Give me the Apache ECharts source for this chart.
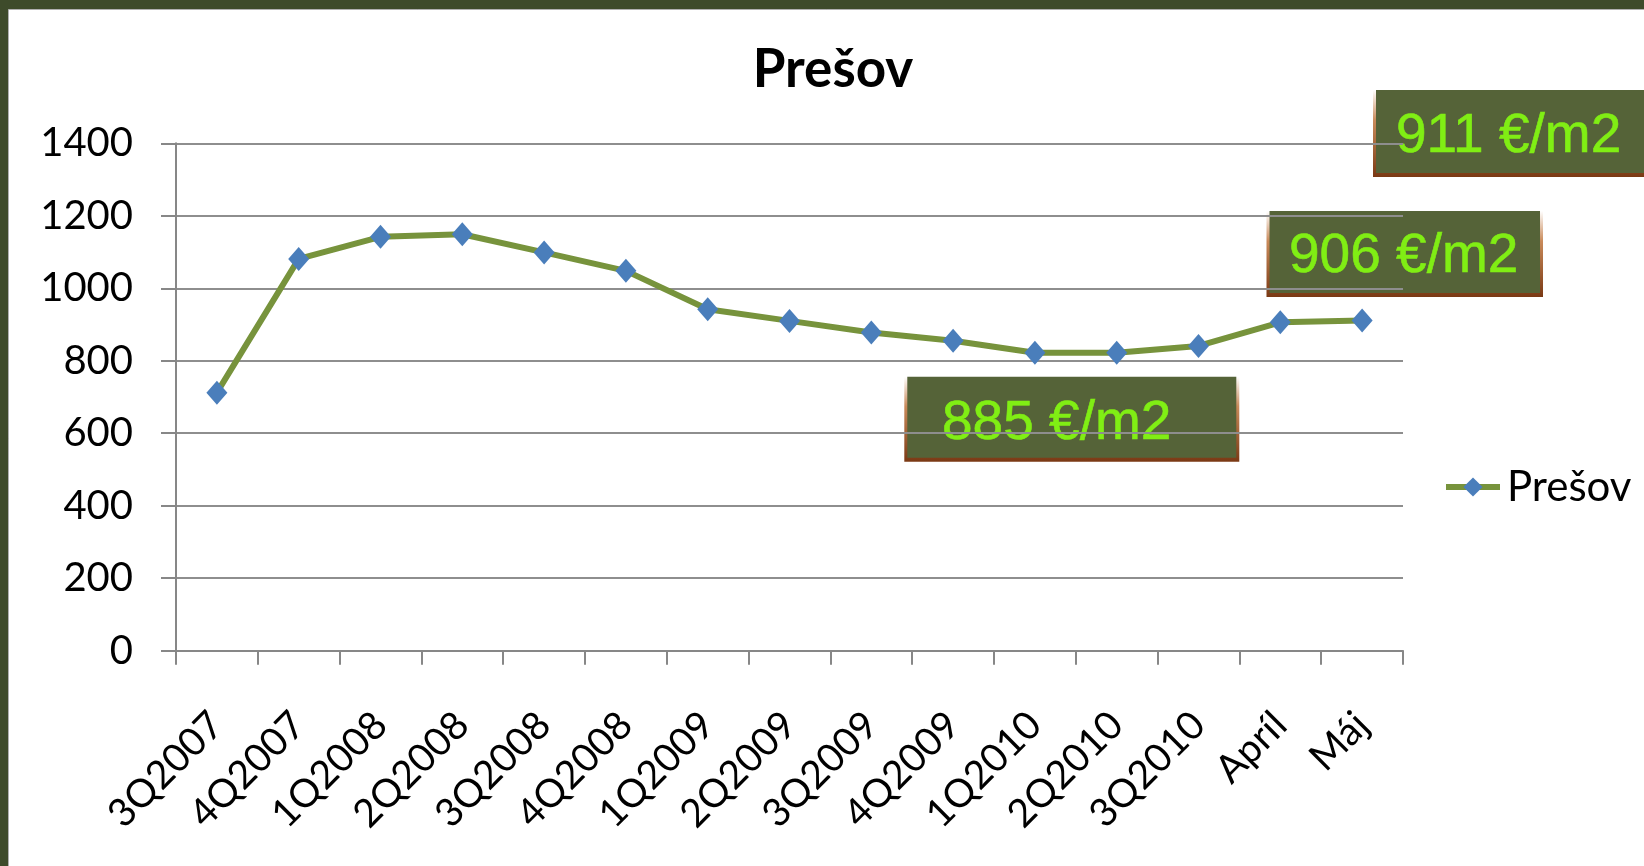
<!DOCTYPE html>
<html>
<head>
<meta charset="utf-8">
<script src="https://cdn.jsdelivr.net/npm/echarts@6/dist/echarts.min.js"></script>
<style>
  html, body { margin: 0; padding: 0; background: #3e4b2b; }
  #chart { width: 1644px; height: 866px; }
</style>
</head>
<body>
<div id="chart"></div>
<script>
const chartTitle = 'Prešov';
const categories = ['3Q2007', '4Q2007', '1Q2008', '2Q2008', '3Q2008', '4Q2008', '1Q2009', '2Q2009', '3Q2009', '4Q2009', '1Q2010', '2Q2010', '3Q2010', 'Apríl', 'Máj'];
const seriesName = 'Prešov';
const values = [712, 1081, 1142, 1149, 1099, 1048, 942, 910, 878, 855, 822, 822, 841, 906, 911];
const yTicks = [0, 200, 400, 600, 800, 1000, 1200, 1400];
const annotationTexts = ['911 €/m2', '906 €/m2', '885 €/m2'];

const boxFill = '#556338';
const boxText = '#80ee14';
const shade = {
  type: 'linear', x: 0, y: 0, x2: 0, y2: 1,
  colorStops: [{ offset: 0, color: '#ffffff' }, { offset: 0.35, color: '#c98a5a' }, { offset: 1, color: '#7a3914' }]
};

function box(x, y, w, h, text, tx, ty) {
  return {
    type: 'group',
    children: [
      { type: 'rect', shape: { x: x, y: y, width: w, height: h }, style: { fill: shade } },
      { type: 'rect', shape: { x: x + 3, y: y, width: w - 6, height: h - 4 }, style: { fill: boxFill } },
      { type: 'text', x: tx, y: ty, style: { text: text, fill: boxText, font: '55px "Liberation Sans", Arial, sans-serif', textAlign: 'left', textVerticalAlign: 'middle', stroke: boxText, lineWidth: 0.6 } }
    ]
  };
}

const chart = echarts.init(document.getElementById('chart'), null, { renderer: 'canvas' });
chart.setOption({
  backgroundColor: 'transparent',
  animation: false,
  title: {
    text: chartTitle,
    left: 828,
    top: 38,
    textAlign: 'center',
    textStyle: { fontFamily: 'Lato', fontWeight: 'bold', fontSize: 53, color: '#000' }
  },
  legend: {
    orient: 'vertical',
    left: 1443,
    top: 466,
    padding: 0,
    itemWidth: 54,
    itemHeight: 24,
    itemGap: 10,
    lineStyle: { width: 6 },
    textStyle: { fontFamily: 'Lato', fontSize: 42, color: '#000', padding: [0, 0, 0, 2] },
    data: [seriesName]
  },
  grid: {
    left: 176, right: 241, top: 143.3, bottom: 215.3,
    containLabel: false,
    outerBoundsMode: 'none'
  },
  xAxis: {
    type: 'category',
    data: categories,
    boundaryGap: true,
    axisLine: { show: true, lineStyle: { color: '#878787', width: 2 } },
    axisTick: { show: true, interval: 0, length: 14, alignWithLabel: false, lineStyle: { color: '#878787', width: 2 } },
    axisLabel: { interval: 0, rotate: 45, margin: 68, fontFamily: 'Lato', fontSize: 39, color: '#000' },
    splitLine: { show: false }
  },
  yAxis: {
    type: 'value',
    min: yTicks[0],
    max: yTicks[yTicks.length - 1],
    interval: yTicks[1] - yTicks[0],
    axisLine: { show: true, lineStyle: { color: '#878787', width: 2 } },
    axisTick: { show: true, length: 15, lineStyle: { color: '#878787', width: 2 } },
    axisLabel: { margin: 43, fontFamily: 'Lato', fontSize: 40, color: '#000', formatter: function (v) { return String(v); } },
    splitLine: { show: true, lineStyle: { color: '#8e8e8e', width: 2 } }
  },
  series: [{
    name: seriesName,
    type: 'line',
    data: values,
    symbol: 'diamond',
    symbolSize: [21, 24],
    lineStyle: { color: '#77933c', width: 6 },
    itemStyle: { color: '#4a7ebb' },
    z: 3
  }],
  graphic: [
    { type: 'rect', z: -10, silent: true, shape: { x: 0, y: 0, width: 1644, height: 866 }, style: { fill: '#3e4b2b' } },
    { type: 'rect', z: -9, silent: true, shape: { x: 8.5, y: 9.5, width: 1640, height: 860 }, style: { fill: '#ffffff', stroke: '#b0b0b0', lineWidth: 1 } },
    box(1373, 90, 275, 87, annotationTexts[0], 1396, 137),
    box(1266.5, 211, 276.5, 86, annotationTexts[1], 1289, 257),
    box(904.3, 376.7, 335, 85, annotationTexts[2], 942, 424)
  ]
});
</script>
</body>
</html>
